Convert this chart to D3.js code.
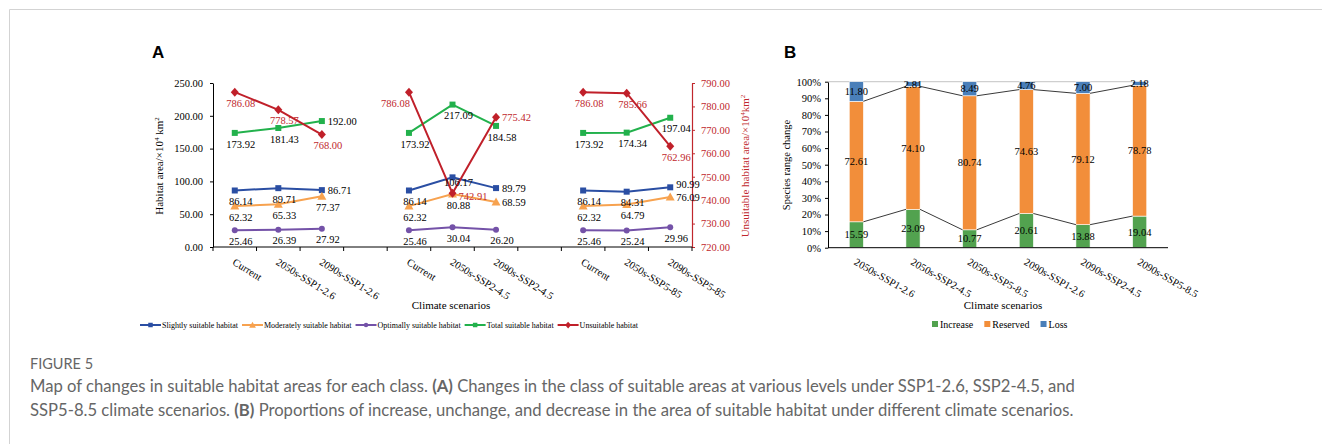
<!DOCTYPE html>
<html>
<head>
<meta charset="utf-8">
<script src="https://cdn.jsdelivr.net/npm/d3@7"></script>
<style>
	body { margin: 0; background: #fff; }
	svg { display: block; }
	.serif text, text.serif { font-family: "Liberation Serif", "Times New Roman", serif; }
</style>
</head>
<body>
<svg id="svg" width="1322" height="444"></svg>
<script>
// ---- panel A data ----
var scenariosA = ["Current", "2050s-SSP1-2.6", "2090s-SSP1-2.6", "", "Current", "2050s-SSP2-4.5", "2090s-SSP2-4.5", "", "Current", "2050s-SSP5-85", "2090s-SSP5-85"];
var slightly = [86.14, 89.71, 86.71, null, 86.14, 106.17, 89.79, null, 86.14, 84.31, 90.99];
var moderately = [62.32, 65.33, 77.37, null, 62.32, 80.88, 68.59, null, 62.32, 64.79, 76.09];
var optimally = [25.46, 26.39, 27.92, null, 25.46, 30.04, 26.2, null, 25.46, 25.24, 29.96];
var totalSuitable = [173.92, 181.43, 192.0, null, 173.92, 217.09, 184.58, null, 173.92, 174.34, 197.04];
var unsuitable = [786.08, 778.57, 768.0, null, 786.08, 742.91, 775.42, null, 786.08, 785.66, 762.96];
var leftTicks = [0, 50, 100, 150, 200, 250];
var rightTicks = [720, 730, 740, 750, 760, 770, 780, 790];

// ---- panel B data ----
var scenariosB = ["2050s-SSP1-2.6", "2050s-SSP2-4.5", "2050s-SSP5-8.5", "2090s-SSP1-2.6", "2090s-SSP2-4.5", "2090s-SSP5-8.5"];
var increase = [15.59, 23.09, 10.77, 20.61, 13.88, 19.04];
var reserved = [72.61, 74.1, 80.74, 74.63, 79.12, 78.78];
var loss = [11.8, 2.81, 8.49, 4.76, 7.0, 2.18];
var percentTicks = [0, 10, 20, 30, 40, 50, 60, 70, 80, 90, 100];

// where each data label sits relative to its point
// b below, n near-below, r right, d right-down, u right-up, l below-left
var placeSlightly = "bbr-bnr-bbu";
var placeModerately = "bbb-bbr-bbr";
var placeOptimally = "bbb-bbb-bbb";
var placeTotal = "bbr-bbb-bbb";
var placeUnsuitable = "bbb-ldr-bbb";

var RED = "#c0272d";
var svg = d3.select("#svg");

// frame
svg.append("line").attr("x1", 9.5).attr("x2", 1322).attr("y1", 9.5).attr("y2", 9.5).attr("stroke", "#d3d3d3");
svg.append("line").attr("x1", 9.5).attr("x2", 9.5).attr("y1", 9.5).attr("y2", 444).attr("stroke", "#d3d3d3");

svg.append("text").attr("x", 152).attr("y", 58).text("A")
	.style("font-family", "Liberation Sans, Arial, sans-serif").style("font-weight", "bold").style("font-size", "17px");
svg.append("text").attr("x", 784).attr("y", 58).text("B")
	.style("font-family", "Liberation Sans, Arial, sans-serif").style("font-weight", "bold").style("font-size", "17px");

// ================= panel A =================
var gA = svg.append("g").attr("class", "serif");
var xA = d3.scaleBand().domain(d3.range(scenariosA.length)).range([213, 692]);
var yL = d3.scaleLinear().domain([0, 250]).range([247, 83]);
var yR = d3.scaleLinear().domain([720, 790]).range([247, 83]);
var cx = function (i) { return xA(i) + xA.bandwidth() / 2; };

var axL = gA.append("g").attr("transform", "translate(213,0)")
	.call(d3.axisLeft(yL).tickValues(leftTicks).tickFormat(d3.format(".2f")).tickSizeInner(3).tickSizeOuter(0).tickPadding(7));
axL.selectAll("text").style("font-size", "10.5px").style("font-family", "Liberation Serif, serif");
axL.select(".domain").attr("stroke", "#000");

var axR = gA.append("g").attr("transform", "translate(692,0)")
	.call(d3.axisRight(yR).tickValues(rightTicks).tickFormat(d3.format(".2f")).tickSizeInner(3).tickSizeOuter(0).tickPadding(6));
axR.selectAll("text").style("font-size", "10.5px").style("font-family", "Liberation Serif, serif").attr("fill", RED);
axR.selectAll("line").attr("stroke", RED);
axR.select(".domain").attr("stroke", RED).attr("stroke-width", 1.2);

// x axis
gA.append("line").attr("x1", 213).attr("x2", 692).attr("y1", yL(0)).attr("y2", yL(0)).attr("stroke", "#000");
gA.selectAll(".xtick").data(d3.range(scenariosA.length + 1)).enter().append("line")
	.attr("x1", function (d) { return 213 + d * xA.step(); })
	.attr("x2", function (d) { return 213 + d * xA.step(); })
	.attr("y1", yL(0)).attr("y2", yL(0) + 4).attr("stroke", "#000");
gA.selectAll(".xlab").data(d3.range(scenariosA.length).filter(function (i) { return scenariosA[i] !== ""; }))
	.enter().append("text")
	.attr("transform", function (i) { return "translate(" + (cx(i) - 3) + "," + 264 + ") rotate(32)"; })
	.style("font-size", "10.5px")
	.text(function (i) { return scenariosA[i]; });

gA.append("text").attr("x", 451).attr("y", 309).attr("text-anchor", "middle").style("font-size", "11px").text("Climate scenarios");

gA.append("text").attr("transform", "translate(163,166) rotate(-90)").attr("text-anchor", "middle").style("font-size", "11px")
	.html("Habitat area/×10<tspan dy='-4' font-size='7px'>4</tspan><tspan dy='4'> km</tspan><tspan dy='-4' font-size='7px'>2</tspan>");
gA.append("text").attr("transform", "translate(749,166) rotate(-90)").attr("text-anchor", "middle").style("font-size", "11px").attr("fill", RED)
	.html("Unsuitable habitat area/×10<tspan dy='-4' font-size='7px'>4</tspan><tspan dy='4'>km</tspan><tspan dy='-4' font-size='7px'>2</tspan>");

var shapes = {
	square: "M-3,-3H3V3H-3Z",
	triangle: "M0,-4.5L4.5,3.5L-4.5,3.5Z",
	circle: d3.symbol(d3.symbolCircle, 28)(),
	diamond: "M0,-4.5L4,0L0,4.5L-4,0Z",
};

var seriesA = [
	{ name: "Slightly suitable habitat", values: slightly, color: "#2a4ea3", shape: "square", y: yL, place: placeSlightly, label: "#000" },
	{ name: "Moderately suitable habitat", values: moderately, color: "#f7a24f", shape: "triangle", y: yL, place: placeModerately, label: "#000" },
	{ name: "Optimally suitable habitat", values: optimally, color: "#7452a8", shape: "circle", y: yL, place: placeOptimally, label: "#000" },
	{ name: "Total suitable habitat", values: totalSuitable, color: "#22b14c", shape: "square", y: yL, place: placeTotal, label: "#000" },
	{ name: "Unsuitable habitat", values: unsuitable, color: "#c0202a", shape: "diamond", y: yR, place: placeUnsuitable, label: RED },
];

seriesA.forEach(function (s) {
	var line = d3.line()
		.defined(function (d) { return d != null; })
		.x(function (d, i) { return cx(i); })
		.y(function (d) { return s.y(d); });
	gA.append("path").datum(s.values).attr("d", line).attr("fill", "none").attr("stroke", s.color).attr("stroke-width", 2);
	var idx = d3.range(s.values.length).filter(function (i) { return s.values[i] != null; });
	gA.selectAll(null).data(idx).enter().append("path")
		.attr("d", shapes[s.shape]).attr("fill", s.color)
		.attr("transform", function (i) { return "translate(" + cx(i) + "," + s.y(s.values[i]) + ")"; });
});

seriesA.forEach(function (s) {
	var idx = d3.range(s.values.length).filter(function (i) { return s.values[i] != null; });
	gA.selectAll(null).data(idx).enter().append("text")
		.style("font-size", "10.5px")
		.attr("fill", s.label)
		.attr("dy", "0.35em")
		.attr("text-anchor", function (i) {
			var p = s.place[i];
			return "rud".indexOf(p) >= 0 ? "start" : p === "l" ? "end" : "middle";
		})
		.attr("x", function (i) {
			var p = s.place[i];
			return cx(i) + (p === "l" ? 1 : 6);
		})
		.attr("y", function (i) {
			var p = s.place[i], py = s.y(s.values[i]);
			return p === "r" ? py : p === "u" ? py - 3 : p === "d" ? py + 3 : p === "n" ? py + 5 : py + 11;
		})
		.text(function (i) { return d3.format(".2f")(s.values[i]); });
});

// legend A
var legA = gA.append("g").attr("transform", "translate(140,325)");
var lx = 0;
seriesA.forEach(function (s) {
	var g = legA.append("g").attr("transform", "translate(" + lx + ",0)");
	g.append("line").attr("x1", 0).attr("x2", 21).attr("stroke", s.color).attr("stroke-width", 2);
	g.append("path").attr("d", shapes[s.shape]).attr("fill", s.color).attr("transform", "translate(10.5,0) scale(0.75)");
	var t = g.append("text").attr("x", 22).attr("dy", "0.35em").style("font-size", "8px").text(s.name);
	lx += 22 + t.node().getComputedTextLength() + 4;
});

// ================= panel B =================
var gB = svg.append("g").attr("class", "serif");
var xB = d3.scaleBand().domain(scenariosB).range([828, 1168]);
var yB = d3.scaleLinear().domain([0, 100]).range([247.7, 81.7]);
var bw = xB.bandwidth() * 0.25;
var colorsB = { increase: "#52a24f", reserved: "#f28e3a", loss: "#4a7fb9" };

var rowsB = scenariosB.map(function (c, i) { return { cat: c, increase: increase[i], reserved: reserved[i], loss: loss[i] }; });
var stacked = d3.stack().keys(["increase", "reserved", "loss"])(rowsB);

var axB = gB.append("g").attr("transform", "translate(828,0)")
	.call(d3.axisLeft(yB).tickValues(percentTicks).tickFormat(function (d) { return d + "%"; }).tickSizeInner(3).tickSizeOuter(0).tickPadding(4));
axB.selectAll("text").style("font-size", "10.5px").style("font-family", "Liberation Serif, serif");
axB.select(".domain").attr("stroke", "#000");

// top line at 100%
gB.append("line").attr("x1", 828).attr("x2", xB(scenariosB[scenariosB.length - 1]) + xB.bandwidth() / 2 + bw / 2)
	.attr("y1", yB(100)).attr("y2", yB(100)).attr("stroke", "#cfcfcf").attr("stroke-width", 1.2);

stacked.forEach(function (layer) {
	gB.selectAll(null).data(layer).enter().append("rect")
		.attr("x", function (d) { return xB(d.data.cat) + xB.bandwidth() / 2 - bw / 2; })
		.attr("width", bw)
		.attr("y", function (d) { return yB(d[1]); })
		.attr("height", function (d) { return yB(d[0]) - yB(d[1]); })
		.attr("fill", colorsB[layer.key])
		.attr("stroke", "#fff").attr("stroke-width", 0.6);
});

// series lines between bars
stacked.slice(0, 2).forEach(function (layer) {
	for (var i = 0; i < layer.length - 1; i++) {
		gB.append("line")
			.attr("x1", xB(layer[i].data.cat) + xB.bandwidth() / 2 + bw / 2)
			.attr("y1", yB(layer[i][1]))
			.attr("x2", xB(layer[i + 1].data.cat) + xB.bandwidth() / 2 - bw / 2)
			.attr("y2", yB(layer[i + 1][1]))
			.attr("stroke", "#222").attr("stroke-width", 0.9);
	}
});

stacked.forEach(function (layer) {
	gB.selectAll(null).data(layer).enter().append("text")
		.attr("x", function (d) { return xB(d.data.cat) + xB.bandwidth() / 2; })
		.attr("y", function (d) { return (yB(d[0]) + yB(d[1])) / 2; })
		.attr("dy", "0.35em").attr("text-anchor", "middle").style("font-size", "10.5px")
		.text(function (d) { return d3.format(".2f")(d.data[layer.key]); });
});

gB.append("line").attr("x1", 828).attr("x2", 1168).attr("y1", yB(0)).attr("y2", yB(0)).attr("stroke", "#000");
gB.selectAll(null).data(scenariosB).enter().append("text")
	.attr("transform", function (d) { return "translate(" + (xB(d) + xB.bandwidth() / 2 - 3) + ",264) rotate(30)"; })
	.style("font-size", "10.5px").text(function (d) { return d; });

gB.append("text").attr("x", 1003).attr("y", 309).attr("text-anchor", "middle").style("font-size", "11px").text("Climate scenarios");
gB.append("text").attr("transform", "translate(790,165) rotate(-90)").attr("text-anchor", "middle").style("font-size", "10.5px").text("Species range change");

var legB = gB.append("g").attr("transform", "translate(932,324)");
var bx = 0;
[["increase", "Increase"], ["reserved", "Reserved"], ["loss", "Loss"]].forEach(function (k) {
	var g = legB.append("g").attr("transform", "translate(" + bx + ",0)");
	g.append("rect").attr("x", 0).attr("y", -3).attr("width", 6).attr("height", 6).attr("fill", colorsB[k[0]]);
	var t = g.append("text").attr("x", 8).attr("dy", "0.35em").style("font-size", "10px").text(k[1]);
	bx += 8 + t.node().getComputedTextLength() + 11;
});

// ================= caption =================
var cap = svg.append("g").style("font-family", "Lato, 'Open Sans', sans-serif").attr("fill", "#666");
cap.append("text").attr("x", 30).attr("y", 369).style("font-size", "14.5px").text("FIGURE 5");
var l1 = cap.append("text").attr("x", 30).attr("y", 392).style("font-size", "16.65px");
l1.append("tspan").text("Map of changes in suitable habitat areas for each class. ");
l1.append("tspan").style("font-weight", "bold").text("(A)");
l1.append("tspan").text(" Changes in the class of suitable areas at various levels under SSP1-2.6, SSP2-4.5, and");
var l2 = cap.append("text").attr("x", 30).attr("y", 415.5).style("font-size", "16.65px");
l2.append("tspan").text("SSP5-8.5 climate scenarios. ");
l2.append("tspan").style("font-weight", "bold").text("(B)");
l2.append("tspan").text(" Proportions of increase, unchange, and decrease in the area of suitable habitat under different climate scenarios.");
</script>
</body>
</html>
